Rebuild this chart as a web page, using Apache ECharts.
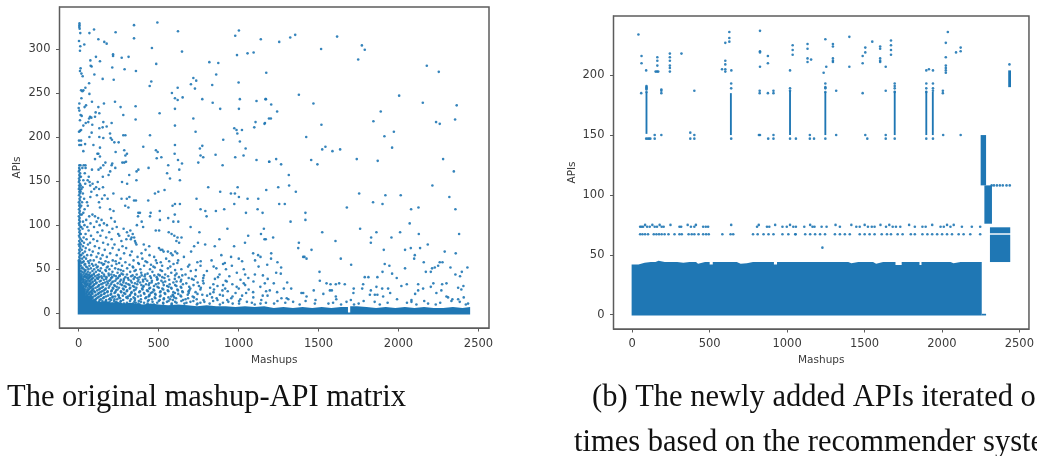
<!DOCTYPE html>
<html>
<head>
<meta charset="UTF-8">
<title>mashup-API matrix</title>
<script src="https://cdn.jsdelivr.net/npm/echarts@6/dist/echarts.min.js"></script>
<style>
  html, body { margin: 0; padding: 0; background: #fff; overflow: hidden; }
  /* the reference is a soft scan */
  #main { width: 1037px; height: 456px; filter: blur(0.45px); }
</style>
</head>
<body>
<div id="main"></div>
<script>
const xTicks = [0, 500, 1000, 1500, 2000, 2500];
const leftYTicks = [0, 50, 100, 150, 200, 250, 300];
const rightYTicks = [0, 50, 100, 150, 200];
const xName = 'Mashups';
const yName = 'APIs';
const leftCaption = 'The original mashup-API matrix';
const rightCaption = ['(b) The newly added APIs iterated o', 'times based on the recommender syste'];

// left panel, sparse part: each row is [API, mashup, mashup, ...]
const leftRowsTop = [
  [330,492],[329,5],[327,5,346],[325,4],[323,6],[322,96],[321,1002],[320,621],[319,231],[318,10,67],
  [316,1354],[315,979],[314,1616],[313,1323],[312,346],[311,123,1139],[309,2],[308,160,1254],[306,175],[305,35],
  [304,1771],[303,10],[301,458],[300,1516],[299,1789],[298,8],[297,646],[296,1094],[295,1056],[294,215],
  [293,990],[292,215],[291,108,312],[290,269],[288,1748],[287,73],[286,133],[285,817],[284,873],[283,485],
  [281,75,2177],[280,81],[279,210],[278,12],[277,287],[275,8,358],[274,2252],[273,1173],[272,17],[271,98,860],
  [269,25],[267,717],[266,150],[265,219],[264,735],[263,454],[262,1000],[261,65],[260,702],[259,835],
  [258,444],[256,42,619],[255,727],[253,15,29],[252,23],[250,583],[249,67],[248,1377],[247,2004],[245,650],
  [244,17,602],[243,773,1008,1171,1168],[242,619],[241,1112],[240,83,227],[239,838,2152],[238,4,158,1468],[237,1204],[236,46,2364],[235,356],
  [234,37,123,262],[233,0],[232,602,885,1002],[230,4],[229,1241,1889],[228,106],[227,129,506],[225,12,279],[224,19],[223,71,102],
  [222,79],[221,65,717,1190,1202],[220,356,2354],[219,8],[218,1843],[217,60,154,1106,2235],[216,44,206,1165],[215,1162,2258],[214,85,1518],[213,29,602],
  [212,175],[211,150,1098],[210,129,973],[208,15,987,1021],[207,8],[206,2,731,1971],[205,81],[204,196,992],[202,279,292,446],[201,1912],
  [200,67,129,1423],[199,154,200],[197,208,904],[196,2,15],[195,1008],[194,223,250],[192,40],[191,4,15,92,602],[190,773],[189,404,1543],
  [188,133,1960],[187,758,1044],[186,1523,1635],[185,285,483],[184,29,1587],[183,231,494],[181,117,123,302,600],[180,856],[179,292,762,1031],[178,133],
  [177,517,979,779],[176,488],[175,102,1235,1739,2279],[174,621,1112,1454],[173,1870],[172,296,1191,1192],[171,273,285,167,748],[170,210,646],[169,1266,1493],[168,4,11,31,42,154,206,560,900]
];

const leftRowsLow = [
  [165,3,23,43,137,229,437],[163,6,83,124,373,629],[161,1,197,362,2346],[159,9,38,553],[157,4,187,316,1314],
  [155,7,14,63,151],[153,2,571],[151,5,29,56,361,633],[149,1,68,119,271],[147,8,41,87,303],
  [145,3,13,72,1316,2212],[143,6,24,109,152,810,994,1248],[141,1,17,97,128],[140,9,537,1173],[138,4,12,79,498,885,1358],
  [136,7,26,217,477,977,952,1754],[134,2,114,162,2014,1918],[132,11,73,317,1002,2318],[130,5,34,146,181,268,301,737,1056,1123],[128,346,358,435,8],
  [126,1,21,52,127,1841],[124,6,602,633,973,1254,1289,1900],[122,3,16,57,291,587],[120,9,133,311,1677,2125],[118,2,37,762,910,1119,196,2356,2079],
  [116,7,218,507,792,858],[114,4,29,373,383,450,1046,1150,1418],[112,10,19,86,601],[110,1,66,102,446,371,800],[108,6,122,203,560],
  [106,3,47,143,508,1418],[104,8,27,112,226,394,592,623,1325],[102,2,74,158,2070],[100,5,36,131,177,364],[98,11,16,54,96,238,403,700],
  [96,1,24,211,281,1158,1760,930],[94,7,62,148,323,482,503],[92,4,118,191,302,563,755,1523,1862,2010],[90,9,13,43,247,338,581,2127,2379,1140],[88,2,77,136,254,312,598,1060],
  [86,6,31,172,331,347,618,643,1216,1829,1956],[84,12,49,92,206,298,326,1162,1170,880],[82,3,21,116,267,352,611,1606],[80,8,33,71,153,356,628,746,1040,1377,1827],[78,1,14,58,183,224,361,407,791,2183],
  [76,5,27,101,274,441,722,851,972],[74,10,44,128,212,297,502,1373,2077,2135],[72,3,19,67,163,251,418,512,523,1456,1908,2041],[70,7,39,88,332,531,558,604,703,2289],[68,2,26,123,197,284,393,577,616,1091,1204,2358],
  [66,9,16,53,78,149,238,322,443,587,892,2102,1122],[64,4,34,112,176,368,472,658,953,1412,1404,1137],[62,7,22,46,137,262,398,547,1001,1203,1425,1639,2098],[60,1,73,94,213,343,483,622,831,1103],[59,11,31,59,168,231,418,566,763,1022],
  [58,27,128,186,292,428,513,742,1243,2158,2258,2275],[57,17,64,143,253,372,489,617,914],[56,41,83,159,236,377,593,903,1914],[55,36,107,152,318,452,692,1179,1704],[54,14,67,91,207,271,409,522,762,958,1943,2248],
  [53,46,119,182,338,467,573,684,844,1125],[52,24,54,113,176,341,476,1266,2227,2325,2431],[51,19,76,139,228,303,558,861,2041,2210],[50,32,61,97,192,248,386,446,642,921,1032],[49,43,122,167,263,357,511,603,733],
  [48,13,39,86,133,171,279,349,521,701,802],[47,23,57,108,211,322,461,1506,1900,2171,2202,2396],[46,34,72,147,243,391,579,989,1235],[45,16,47,96,187,268,431,612,1264,1960],[44,29,63,126,158,302,363,498,881,1102,2356],
  [44,52,93,204,277,416,541,668,1041],[43,14,41,82,221,337,473,648,783,1152],[43,68,117,189,257,394,507,603],[42,21,56,103,142,254,412,559,942,2385],[42,37,79,161,233,328,447,731],[41,33,71,174,292,381,523,1789,1812,1868],
  [41,12,48,128,209,351,488,627,871],[40,18,49,91,203,308,452,688,1989,1061],[40,64,114,146,246,367,536,779],[39,27,59,121,236,344,601,852,1182],[39,13,84,172,283,417,493,708],
  [38,16,42,76,157,264,402,491,719,1012],[38,31,104,198,312,374,566,641],[37,24,53,101,191,326,429,1508,919],[37,66,138,229,281,458,517,777],[36,11,34,69,131,216,369,541,638,1093],[36,47,87,178,258,403,612,926],
  [35,19,45,86,164,279,456,592,1304],[35,28,112,207,332,384,527,744],[34,13,58,109,244,352,499,781,1164,1220,1550,1629,2218,2300],[34,37,74,151,183,297,442,673,1032],
  [33,16,39,73,141,202,311,421,652,961,1575,1608,1664,1779,2052,2123,2273],[33,52,98,262,366,483,569,842],[32,23,51,94,174,271,392,532,718,1041],[32,12,67,127,223,318,438,603,903],
  [31,31,63,124,226,339,471,611,868,2018,2406],[31,44,88,193,286,406,553,752],[30,17,43,81,152,294,404,562,691,1136,1862,2202],[30,29,71,118,238,347,493,638,988],
  [29,26,56,106,188,252,361,501,642,822,2373],[29,14,77,144,213,323,447,578,764],[28,36,69,133,216,319,441,581,1001,1283,1329,1720,1773,1898,1935,2154],[28,22,92,169,277,397,523,698,916],
  [27,21,47,89,166,282,399,529,761,1063,2393],[27,34,62,128,243,356,468,617,846],[26,11,59,116,234,346,472,621,899,1195,1470,1571,1583,1827,2123,2268],[26,27,83,157,207,303,427,557,692],
  [25,18,41,79,146,204,301,433,561,687,1172],[25,53,97,181,264,383,512,648,932],[24,24,54,102,179,266,379,509,651,843,1091,1241],[24,13,72,136,229,331,461,592,731],
  [23,16,36,67,126,224,329,451,602,981,1393,1404,1718,1948,2237],[23,48,84,163,284,408,537,688,1047],[22,23,46,86,159,291,411,541,743,2104,1530],[22,31,63,122,203,352,478,623,822],
  [21,29,57,111,199,354,481,682,883,1821,1852,1868],[21,19,74,143,246,322,443,588,773],[20,17,39,76,139,251,319,442,591,803,1151,1181,1022],[20,52,104,183,276,388,512,637,902],
  [19,26,49,93,171,228,371,508,641,962,1425,1608,1904,2300],[19,34,67,129,213,307,437,578,713],[18,37,64,121,211,298,422,561,721,1092,2310,2408],[18,83,158,252,343,476,597,834],
  [17,46,86,152,259,351,479,609,863,1268,1301],[17,112,197,306,417,533,684,954],[16,61,106,191,241,389,532,668,1011,1311,1611,1991,2337,2373],[16,138,224,327,458,572,738],
  [15,76,131,172,278,438,589,781,929,1142,1481,1702,2081],[15,99,203,352,507,653,868],[14,91,148,221,321,376,501,642,841,1243,1419,1782,2161,2331],[14,169,264,433,562,717,1003],
  [13,109,194,261,348,462,552,699,1052,1341,1675,1851,2081,2383],[13,127,233,389,603,786,936],[12,124,182,241,302,409,491,612,761,902,1171,1591,1932,2053,2261],[12,153,357,528,674,1083,1292],
  [11,141,209,283,339,431,529,661,819,1003,1222,1477,1562,1751,2185,2435],[11,176,373,582,743,963,1137],[10,162,252,381,471,581,739,883,1101,1382,1641,1722,1883,2112,2233,2421]
];

// left panel, the solid strip at the bottom: top edge as steps
const leftStripX = [-6,12,22,40,60,85,110,140,170,200,240,280,320,360,400,450,500,560,620,680,740,800,860,920,980,1040,1100,1160,1220,1280,1340,1400,1460,1520,1580,1640,1684,1698,1740,1800,1860,1920,1980,2040,2100,2160,2220,2280,2340,2400,2448];
const leftStripTop = [60,42,28,20,19,16,13,14,12,13,11,12,11,10,11,10,9,10,9,8,9,8,8,7,8,7,8,6,7,6,7,6,7,6,7,7,1,8,7,6,7,6,7,6,7,6,6,7,6,7,7];

// right panel: [API, mashup, mashup, ...]
const rightRows = [
  [237,825],[236,627,2038],[234,40],[232,1402],[231,627],[230,1247],[229,1671],[228,1550,627],[227,601,2025],[226,1132,1296],
  [225,1036,1671],[224,1296,1601],[223,1505,2121],[222,1132,1601],[221,1036,1671],[220,2121,825],[219,825,1505,2091],[218,243,318],[217,1036,1671],[216,60,876,1488],
  [215,162,243,2025],[214,1132,1296,1601],[213,1155],[212,162,243,601,1296,1601],[211,1132,1296,1601],[210,60,876,1488],[209,601,2436],[208,162,243,2025],[207,825,1253,1402,1637],[206,243,2025],
  [205,580,601,1916],[204,90,640,1019,1899,1942,2025],[203,151,160,168,243,601],[202,1236,2025],[193,639,1247,1695,1899,1942],[191,92,1695],[190,92,1247],[189,92,639,1019,1247,1695,1899,1942],[188,92,188],[187,188,401,823,912,1019,1317,1637,1942,2006],
  [186,92,1247,1695,1899],[185,58,188,823,876,912,1488,2006],[150,145,188,401,818,825,912,1147,1317,1505,1637,2008,2121],[152,375],[147,90,100,109,117,145,375,401,639,878,912,1019,1057,1147,1174,1247,1518,1637,1695,1899,1942],
  [108,2321,2336,2355,2374,2393,2417,2438],[56,1228],
  [75,83,130,177,247,358,411,639,817,923,1019,1149,1313,1415,1501,1603,1660,1788,1937,2033,2076],
  [73.5,51,60,70,96,113,145,160,190,203,305,316,379,401,458,475,490,806,870,885,970,998,1040,1057,1111,1164,1177,1223,1255,1341,1447,1469,1522,1547,1565,1639,1682,1703,1731,1825,1874,1895,1991,2012,2055,2129,2193,2247],
  [67.2,51,66,83,102,139,156,173,190,209,234,273,305,320,364,384,401,428,458,477,494,582,635,652,780,810,848,880,912,970,1008,1055,1053,1117,1149,1181,1213,1245,1309,1341,1373,1405,1469,1501,1533,1565,1611,1645,1671,1714,1746,1799,1825,1874,1906,1937,1969,2001,2033,2065,2108,2140,2183,2247]
];

// right panel, solid areas: [from mashup, to mashup, from API, to API]
const rightBlocks = [
  [86,98,151,186],[631,643,150,185],[1013,1025,150,187],[1241,1253,150,186],[1689,1701,150,187],[1893,1905,150,187],[1935,1947,150,186],
  [2250,2285,108,150],[2274,2323,76,108],[2310,2441,68,73],[2310,2441,44,66.8],[2428,2446,190,204],[2257,2285,-0.6,0.8]
];
const mainTopX = [-4,40,80,120,150,170,210,250,290,330,370,412,425,470,500,520,560,600,650,675,700,740,780,820,860,915,935,980,1020,1060,1100,1140,1180,1220,1260,1300,1340,1395,1415,1460,1500,1555,1575,1620,1660,1685,1700,1740,1780,1820,1855,1868,1920,1960,2000,2055,2075,2120,2160,2200,2240,2257];
const mainTop = [42,43.5,44,44,45,44,44,44,43.5,44,44,42.5,44,44,42,44,44,44,44,42.5,43,44,44,44,44,42,44,44,44,44,44,44,44,44,44,44,44,43,44,44,44,42.5,44,44,44,44,41.5,44,44,44,41.5,44,44,44,44,43,44,44,44,44,44,44];

const BLUE = '#1f77b4';
const TEXT = '#3a3a3a';
const FRAME = '#5c5c5c';
const plainNumber = v => String(v);

function flatten(rows) {
  const pts = [];
  rows.forEach(row => row.slice(1).forEach(x => pts.push([x, row[0]])));
  return pts;
}
function zip(xs, ys) {
  return xs.map((x, i) => [x, ys[i]]);
}

function makeX(gridIndex, min, max, margin) {
  return {
    type: 'value', gridIndex, min, max,
    name: xName, nameLocation: 'middle', nameGap: 23,
    nameTextStyle: { color: TEXT, fontFamily: 'DejaVu Sans', fontSize: 10.5 },
    splitLine: { show: false },
    axisLine: { onZero: false, lineStyle: { color: FRAME, width: 1 } },
    axisTick: { customValues: xTicks, length: 3.5, lineStyle: { color: FRAME } },
    axisLabel: { customValues: xTicks, formatter: plainNumber, color: TEXT, fontFamily: 'DejaVu Sans', fontSize: 11.5, margin, hideOverlap: false, showMinLabel: true, showMaxLabel: true }
  };
}
function makeY(gridIndex, min, max, ticks, nameGap) {
  return {
    type: 'value', gridIndex, min, max,
    name: yName, nameLocation: 'middle', nameGap,
    nameTextStyle: { color: TEXT, fontFamily: 'DejaVu Sans', fontSize: 10.5 },
    splitLine: { show: false },
    axisLine: { onZero: false, lineStyle: { color: FRAME, width: 1 } },
    axisTick: { customValues: ticks, length: 3.5, lineStyle: { color: FRAME } },
    axisLabel: { customValues: ticks, formatter: plainNumber, color: TEXT, fontFamily: 'DejaVu Sans', fontSize: 11.5, margin: 9 }
  };
}
function dots(axisIndex, data) {
  return {
    type: 'scatter', xAxisIndex: axisIndex, yAxisIndex: axisIndex, data,
    symbolSize: 2.6, silent: true, animation: false,
    itemStyle: { color: BLUE, opacity: 0.9 }
  };
}
function stepArea(axisIndex, data, origin) {
  return {
    type: 'line', xAxisIndex: axisIndex, yAxisIndex: axisIndex, data, step: 'end',
    symbol: 'none', silent: true, animation: false,
    lineStyle: { width: 0 },
    areaStyle: { color: BLUE, opacity: 1, origin }
  };
}

const chart = echarts.init(document.getElementById('main'), null, { renderer: 'canvas' });
chart.setOption({
  animation: false,
  grid: [
    { left: 59.5, top: 7, width: 429.5, height: 321, show: true, borderColor: FRAME, borderWidth: 1.5, backgroundColor: '#fff' },
    { left: 613.5, top: 16, width: 419.5, height: 313, show: true, borderColor: FRAME, borderWidth: 1.5, backgroundColor: '#fff' }
  ],
  xAxis: [makeX(0, -120, 2566, 10), makeX(1, -121, 2562, 9)],
  yAxis: [makeY(0, -16.7, 347.6, leftYTicks, 37), makeY(1, -11.9, 249.4, rightYTicks, 36)],
  series: [
    stepArea(0, zip(leftStripX, leftStripTop), -1.5),
    dots(0, flatten(leftRowsTop)),
    dots(0, flatten(leftRowsLow)),
    stepArea(1, zip(mainTopX, mainTop), -0.6),
    {
      type: 'custom', xAxisIndex: 1, yAxisIndex: 1, data: rightBlocks, silent: true, animation: false,
      encode: { x: [0, 1], y: [2, 3] },
      renderItem: function(params, api) {
        const a = api.coord([api.value(0), api.value(3)]);
        const b = api.coord([api.value(1), api.value(2)]);
        return { type: 'rect', shape: { x: a[0], y: a[1], width: b[0] - a[0], height: b[1] - a[1] }, style: { fill: BLUE } };
      }
    },
    dots(1, flatten(rightRows))
  ],
  graphic: [
    { type: 'text', left: 7, top: 382, style: { text: leftCaption, fill: '#111', font: '30.5px "Liberation Serif"' } },
    { type: 'text', left: 592, top: 382, style: { text: rightCaption[0], fill: '#111', font: '30.5px "Liberation Serif"' } },
    { type: 'text', left: 574, top: 427, style: { text: rightCaption[1], fill: '#111', font: '30.5px "Liberation Serif"' } }
  ]
});
</script>
</body>
</html>
